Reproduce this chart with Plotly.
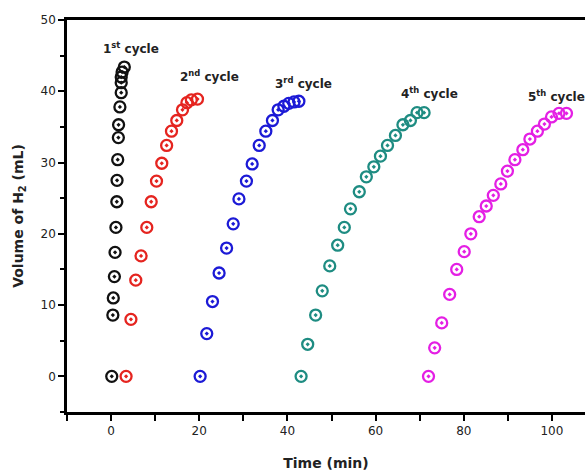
import plotly.graph_objects as go

c1_x = [0.15, 0.4, 0.5, 0.75, 0.9, 1.1, 1.3, 1.35, 1.5, 1.65, 1.7, 2.0, 2.3, 2.3, 2.3, 2.5, 3.0]
c1_y = [0, 8.6, 11.0, 14.0, 17.4, 20.9, 24.5, 27.5, 30.4, 33.5, 35.3, 37.8, 39.8, 41.2, 42.0, 42.7, 43.4]
c2_x = [3.4, 4.5, 5.6, 6.8, 8.1, 9.1, 10.3, 11.5, 12.6, 13.7, 14.9, 16.2, 17.2, 18.2, 19.6]
c2_y = [0, 8.0, 13.5, 16.9, 20.9, 24.5, 27.4, 29.9, 32.4, 34.4, 35.9, 37.4, 38.4, 38.8, 38.9]
c3_x = [20.2, 21.7, 23.0, 24.5, 26.2, 27.7, 29.0, 30.7, 32.0, 33.6, 35.1, 36.6, 37.9, 39.2, 40.3, 41.5, 42.6]
c3_y = [0, 6.0, 10.5, 14.5, 18.0, 21.4, 24.9, 27.4, 29.8, 32.4, 34.4, 35.9, 37.4, 37.9, 38.3, 38.5, 38.6]
c4_x = [43.1, 44.6, 46.4, 47.9, 49.6, 51.4, 52.9, 54.3, 56.3, 57.9, 59.6, 61.1, 62.7, 64.5, 66.2, 67.9, 69.4, 71.0]
c4_y = [0, 4.5, 8.6, 12.0, 15.5, 18.4, 20.9, 23.5, 25.9, 28.0, 29.4, 30.9, 32.4, 33.8, 35.3, 35.9, 37.0, 37.0]
c5_x = [72.0, 73.4, 75.0, 76.8, 78.4, 80.1, 81.6, 83.5, 85.1, 86.7, 88.4, 89.9, 91.6, 93.4, 95.0, 96.7, 98.3, 99.9, 101.6, 103.3]
c5_y = [0, 4.0, 7.5, 11.5, 15.0, 17.5, 20.0, 22.4, 23.9, 25.4, 27.0, 28.8, 30.4, 31.8, 33.3, 34.4, 35.4, 36.4, 36.9, 36.9]

series = [
    (c1_x, c1_y, "#111111", "1<sup>st</sup>"),
    (c2_x, c2_y, "#e5241f", "2<sup>nd</sup>"),
    (c3_x, c3_y, "#1c1ad6", "3<sup>rd</sup>"),
    (c4_x, c4_y, "#1e8c82", "4<sup>th</sup>"),
    (c5_x, c5_y, "#e41fe4", "5<sup>th</sup>"),
]
label_pos = [(4.5, 46.1), (22.3, 42.2), (43.6, 41.1), (72.2, 39.8), (101.0, 39.4)]

fig = go.Figure()
for (xs, ys, col, lab) in series:
    fig.add_trace(go.Scatter(
        x=xs, y=ys, mode="markers",
        marker=dict(symbol="circle-open-dot", size=11, color=col, line=dict(width=2.3, color=col)),
        cliponaxis=False, showlegend=False))

for (xs, ys, col, lab), (lx, ly) in zip(series, label_pos):
    fig.add_annotation(x=lx, y=ly, text="<b>" + lab.replace("<sup>", "<sup style='font-size:7px'>") + " cycle</b>",
                       showarrow=False, font=dict(family="DejaVu Sans", size=12, color="#222"),
                       xanchor="center", yanchor="middle")

fig.update_layout(
    width=585, height=474,
    margin=dict(l=67, r=0, t=20, b=62),
    plot_bgcolor="white", paper_bgcolor="white",
    xaxis=dict(range=[-10, 107.5], tickvals=[0, 20, 40, 60, 80, 100],
               ticks="outside", ticklen=6, tickwidth=2, tickcolor="black",
               minor=dict(tickvals=[-10, 10, 30, 50, 70, 90], ticks="outside", ticklen=6, tickwidth=2, tickcolor="black"),
               showline=True, linewidth=2.5, linecolor="black", mirror=True,
               showgrid=False, zeroline=False,
               tickfont=dict(family="DejaVu Sans", size=12, color="#222"),
               title=dict(text="<b>Time (min)</b>", font=dict(family="DejaVu Sans", size=14, color="#222"), standoff=22)),
    yaxis=dict(range=[-5, 50], tickvals=[0, 10, 20, 30, 40, 50],
               ticks="outside", ticklen=6, tickwidth=2, tickcolor="black",
               minor=dict(tickvals=[-5, 5, 15, 25, 35, 45], ticks="outside", ticklen=4, tickwidth=2, tickcolor="black"),
               showline=True, linewidth=2.5, linecolor="black",
               showgrid=False, zeroline=False,
               tickfont=dict(family="DejaVu Sans", size=12, color="#222"),
               title=dict(text="<b>Volume of H<sub>2</sub> (mL)</b>", font=dict(family="DejaVu Sans", size=14, color="#222"), standoff=14)),
)
fig.update_xaxes(tickprefix="<b>", ticksuffix="</b>")
fig.update_yaxes(tickprefix="<b>", ticksuffix="</b>")
fig.write_html("out.html")
